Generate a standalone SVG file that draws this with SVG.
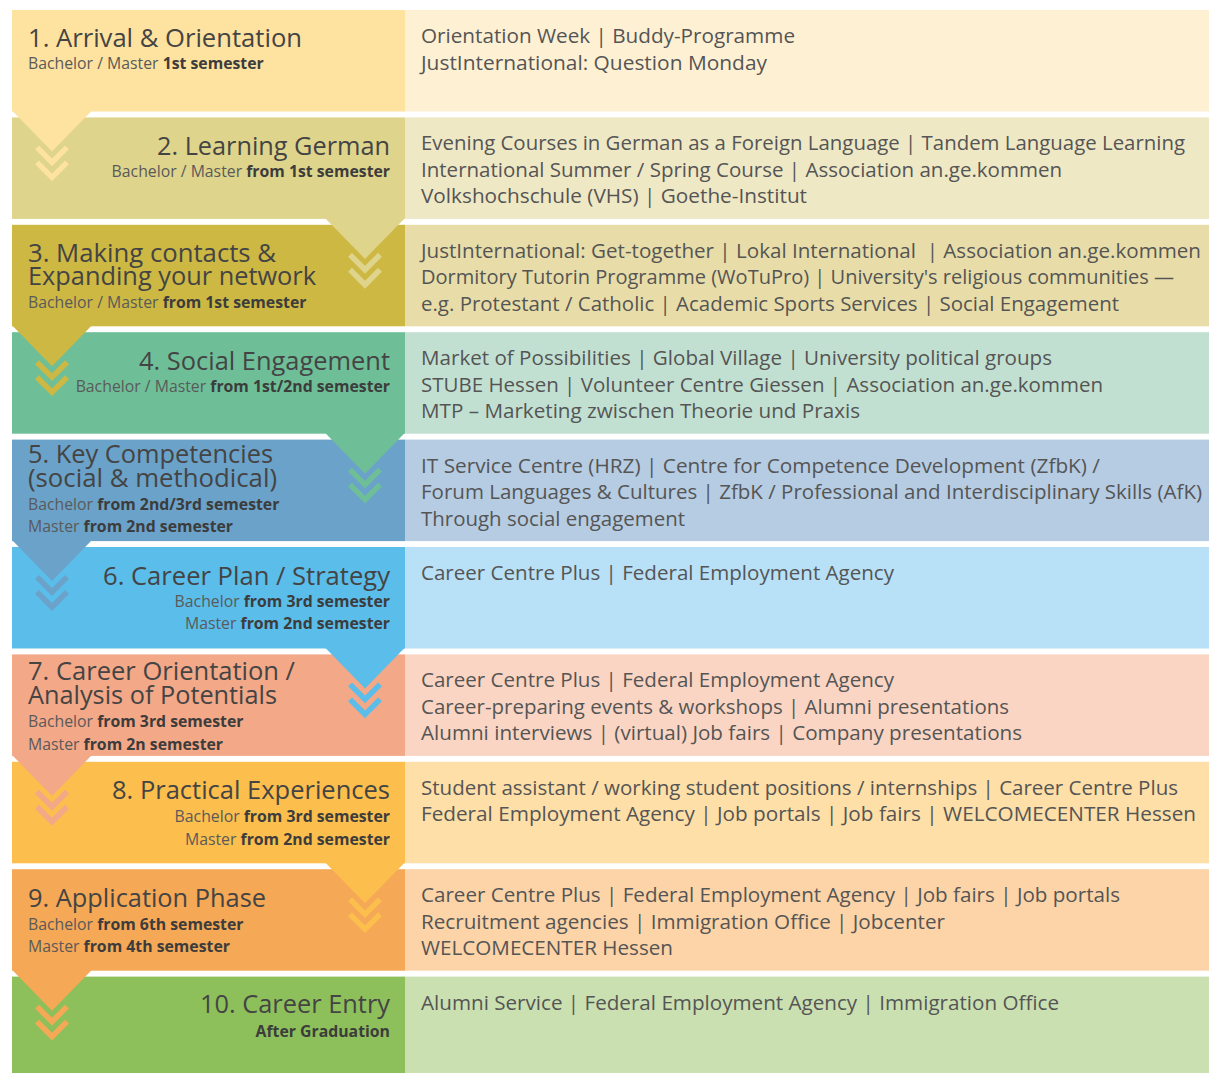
<svg xmlns="http://www.w3.org/2000/svg" xmlns:xlink="http://www.w3.org/1999/xlink" width="1209" height="1073" viewBox="0 0 1209 1073">
<style>
  text { font-family: "Open Sans", "Noto Sans", "Liberation Sans", sans-serif; }
  .h { font-size: 25.6px; fill: #444444; }
  .s { font-size: 15.8px; fill: #5a5a5a; }
  .s .b, .b { font-weight: bold; fill: #3c3c3c; }
  .r { font-size: 20px; fill: #555555; }
  .end { text-anchor: end; }
  .chev { fill: none; stroke-width: 5.5; }
</style>
<defs>
  <path id="chev" d="M-15,-15 L0,0 L15,-15 M-15,0 L0,15 L15,0"/>
</defs>
<rect width="1209" height="1073" fill="#ffffff"/>

<g id="row1">
  <rect x="12" y="10" width="393" height="101.5" fill="#FEE29F"/>
  <rect x="405" y="10" width="804" height="101.5" fill="#FEF0D3"/>
  <text class="h" x="28" y="46.5" textLength="274" lengthAdjust="spacingAndGlyphs">1. Arrival &amp; Orientation</text>
  <text class="s" x="28" y="69.3">Bachelor / Master <tspan class="b">1st semester</tspan></text>
  <text class="r" x="421" y="43" textLength="374" lengthAdjust="spacingAndGlyphs">Orientation Week | Buddy-Programme</text>
  <text class="r" x="421" y="69.5" textLength="346" lengthAdjust="spacingAndGlyphs">JustInternational: Question Monday</text>
</g>

<g id="row2">
  <rect x="12" y="117.4" width="393" height="101.5" fill="#DFD48B"/>
  <rect x="405" y="117.4" width="804" height="101.5" fill="#EFE8C5"/>
  <text class="h end" x="390" y="155" textLength="233" lengthAdjust="spacingAndGlyphs">2. Learning German</text>
  <text class="s end" x="390" y="176.9">Bachelor / Master <tspan class="b">from 1st semester</tspan></text>
  <text class="r" x="421" y="150.4" textLength="764" lengthAdjust="spacingAndGlyphs">Evening Courses in German as a Foreign Language | Tandem Language Learning</text>
  <text class="r" x="421" y="176.9" textLength="641" lengthAdjust="spacingAndGlyphs">International Summer / Spring Course | Association an.ge.kommen</text>
  <text class="r" x="421" y="203.4" textLength="386" lengthAdjust="spacingAndGlyphs">Volkshochschule (VHS) | Goethe-Institut</text>
</g>

<g id="row3">
  <rect x="12" y="224.8" width="393" height="101.5" fill="#CDB843"/>
  <rect x="405" y="224.8" width="804" height="101.5" fill="#E8DDA8"/>
  <text class="h" x="28" y="261.7" textLength="248" lengthAdjust="spacingAndGlyphs">3. Making contacts &amp;</text>
  <text class="h" x="28" y="285" textLength="288" lengthAdjust="spacingAndGlyphs">Expanding your network</text>
  <text class="s" x="28" y="308.3">Bachelor / Master <tspan class="b">from 1st semester</tspan></text>
  <text class="r" x="421" y="257.8" textLength="780" lengthAdjust="spacingAndGlyphs" style="white-space:pre">JustInternational: Get-together | Lokal International  | Association an.ge.kommen</text>
  <text class="r" x="421" y="284.3" textLength="753" lengthAdjust="spacingAndGlyphs">Dormitory Tutorin Programme (WoTuPro) | University's religious communities —</text>
  <text class="r" x="421" y="310.8" textLength="698" lengthAdjust="spacingAndGlyphs">e.g. Protestant / Catholic | Academic Sports Services | Social Engagement</text>
</g>

<g id="row4">
  <rect x="12" y="332.2" width="393" height="101.5" fill="#6EBF98"/>
  <rect x="405" y="332.2" width="804" height="101.5" fill="#C2E0D1"/>
  <text class="h end" x="390" y="370" textLength="251" lengthAdjust="spacingAndGlyphs">4. Social Engagement</text>
  <text class="s end" x="390" y="391.7">Bachelor / Master <tspan class="b">from 1st/2nd semester</tspan></text>
  <text class="r" x="421" y="365.2" textLength="631" lengthAdjust="spacingAndGlyphs">Market of Possibilities | Global Village | University political groups</text>
  <text class="r" x="421" y="391.7" textLength="682" lengthAdjust="spacingAndGlyphs">STUBE Hessen | Volunteer Centre Giessen | Association an.ge.kommen</text>
  <text class="r" x="421" y="418.2" textLength="439" lengthAdjust="spacingAndGlyphs">MTP – Marketing zwischen Theorie und Praxis</text>
</g>

<g id="row5">
  <rect x="12" y="439.6" width="393" height="101.5" fill="#6BA2C9"/>
  <rect x="405" y="439.6" width="804" height="101.5" fill="#B5CCE3"/>
  <text class="h" x="28" y="463.3" textLength="245" lengthAdjust="spacingAndGlyphs">5. Key Competencies</text>
  <text class="h" x="28" y="486.7" textLength="249" lengthAdjust="spacingAndGlyphs">(social &amp; methodical)</text>
  <text class="s" x="28" y="510">Bachelor <tspan class="b">from 2nd/3rd semester</tspan></text>
  <text class="s" x="28" y="532.3">Master <tspan class="b">from 2nd semester</tspan></text>
  <text class="r" x="421" y="472.6" textLength="679" lengthAdjust="spacingAndGlyphs">IT Service Centre (HRZ) | Centre for Competence Development (ZfbK) /</text>
  <text class="r" x="421" y="499.1" textLength="781" lengthAdjust="spacingAndGlyphs">Forum Languages &amp; Cultures | ZfbK / Professional and Interdisciplinary Skills (AfK)</text>
  <text class="r" x="421" y="525.6" textLength="264" lengthAdjust="spacingAndGlyphs">Through social engagement</text>
</g>

<g id="row6">
  <rect x="12" y="547" width="393" height="101.5" fill="#5BBDEA"/>
  <rect x="405" y="547" width="804" height="101.5" fill="#B8E0F6"/>
  <text class="h end" x="390" y="585" textLength="287" lengthAdjust="spacingAndGlyphs">6. Career Plan / Strategy</text>
  <text class="s end" x="390" y="606.7">Bachelor <tspan class="b">from 3rd semester</tspan></text>
  <text class="s end" x="390" y="629.3">Master <tspan class="b">from 2nd semester</tspan></text>
  <text class="r" x="421" y="580" textLength="473" lengthAdjust="spacingAndGlyphs">Career Centre Plus | Federal Employment Agency</text>
</g>

<g id="row7">
  <rect x="12" y="654.4" width="393" height="101.5" fill="#F3A888"/>
  <rect x="405" y="654.4" width="804" height="101.5" fill="#FAD5C3"/>
  <text class="h" x="28" y="680" textLength="267" lengthAdjust="spacingAndGlyphs">7. Career Orientation /</text>
  <text class="h" x="28" y="704" textLength="249" lengthAdjust="spacingAndGlyphs">Analysis of Potentials</text>
  <text class="s" x="28" y="727.3">Bachelor <tspan class="b">from 3rd semester</tspan></text>
  <text class="s" x="28" y="750">Master <tspan class="b">from 2n semester</tspan></text>
  <text class="r" x="421" y="687.4" textLength="473" lengthAdjust="spacingAndGlyphs">Career Centre Plus | Federal Employment Agency</text>
  <text class="r" x="421" y="713.9" textLength="588" lengthAdjust="spacingAndGlyphs">Career-preparing events &amp; workshops | Alumni presentations</text>
  <text class="r" x="421" y="740.4" textLength="601" lengthAdjust="spacingAndGlyphs">Alumni interviews | (virtual) Job fairs | Company presentations</text>
</g>

<g id="row8">
  <rect x="12" y="761.8" width="393" height="101.5" fill="#FCBE4D"/>
  <rect x="405" y="761.8" width="804" height="101.5" fill="#FEDFA8"/>
  <text class="h end" x="390" y="799.3" textLength="278" lengthAdjust="spacingAndGlyphs">8. Practical Experiences</text>
  <text class="s end" x="390" y="821.7">Bachelor <tspan class="b">from 3rd semester</tspan></text>
  <text class="s end" x="390" y="845">Master <tspan class="b">from 2nd semester</tspan></text>
  <text class="r" x="421" y="794.8" textLength="757" lengthAdjust="spacingAndGlyphs">Student assistant / working student positions / internships | Career Centre Plus</text>
  <text class="r" x="421" y="821.3" textLength="775" lengthAdjust="spacingAndGlyphs">Federal Employment Agency | Job portals | Job fairs | WELCOMECENTER Hessen</text>
</g>

<g id="row9">
  <rect x="12" y="869.2" width="393" height="101.5" fill="#F5A856"/>
  <rect x="405" y="869.2" width="804" height="101.5" fill="#FCD4A8"/>
  <text class="h" x="28" y="906.7" textLength="238" lengthAdjust="spacingAndGlyphs">9. Application Phase</text>
  <text class="s" x="28" y="930">Bachelor <tspan class="b">from 6th semester</tspan></text>
  <text class="s" x="28" y="951.7">Master <tspan class="b">from 4th semester</tspan></text>
  <text class="r" x="421" y="902.2" textLength="699" lengthAdjust="spacingAndGlyphs">Career Centre Plus | Federal Employment Agency | Job fairs | Job portals</text>
  <text class="r" x="421" y="928.7" textLength="524" lengthAdjust="spacingAndGlyphs">Recruitment agencies | Immigration Office | Jobcenter</text>
  <text class="r" x="421" y="955.2" textLength="252" lengthAdjust="spacingAndGlyphs">WELCOMECENTER Hessen</text>
</g>

<g id="row10">
  <rect x="12" y="976.6" width="393" height="96.4" fill="#8DC05B"/>
  <rect x="405" y="976.6" width="804" height="96.4" fill="#CAE0B1"/>
  <text class="h end" x="390" y="1013.3" textLength="190" lengthAdjust="spacingAndGlyphs">10. Career Entry</text>
  <text class="s end b" x="390" y="1036.7">After Graduation</text>
  <text class="r" x="421" y="1009.6" textLength="638" lengthAdjust="spacingAndGlyphs">Alumni Service | Federal Employment Agency | Immigration Office</text>
</g>

<g id="connectors">
  <polygon points="12,110.5 92,110.5 52,151.5" fill="#FEE29F"/>
  <use xlink:href="#chev" class="chev" stroke="#FEE29F" transform="translate(52,162.4)"/>
  <polygon points="325,217.9 405,217.9 365,258.9" fill="#DFD48B"/>
  <use xlink:href="#chev" class="chev" stroke="#DFD48B" transform="translate(365,269.8)"/>
  <polygon points="12,325.3 92,325.3 52,366.3" fill="#CDB843"/>
  <use xlink:href="#chev" class="chev" stroke="#CDB843" transform="translate(52,377.2)"/>
  <polygon points="325,432.7 405,432.7 365,473.7" fill="#6EBF98"/>
  <use xlink:href="#chev" class="chev" stroke="#6EBF98" transform="translate(365,484.6)"/>
  <polygon points="12,540.1 92,540.1 52,581.1" fill="#6BA2C9"/>
  <use xlink:href="#chev" class="chev" stroke="#6BA2C9" transform="translate(52,592)"/>
  <polygon points="325,647.5 405,647.5 365,688.5" fill="#5BBDEA"/>
  <use xlink:href="#chev" class="chev" stroke="#5BBDEA" transform="translate(365,699.4)"/>
  <polygon points="12,754.9 92,754.9 52,795.9" fill="#F3A888"/>
  <use xlink:href="#chev" class="chev" stroke="#F3A888" transform="translate(52,806.8)"/>
  <polygon points="325,862.3 405,862.3 365,903.3" fill="#FCBE4D"/>
  <use xlink:href="#chev" class="chev" stroke="#FCBE4D" transform="translate(365,914.2)"/>
  <polygon points="12,969.7 92,969.7 52,1010.7" fill="#F5A856"/>
  <use xlink:href="#chev" class="chev" stroke="#F5A856" transform="translate(52,1021.6)"/>
</g>
</svg>
